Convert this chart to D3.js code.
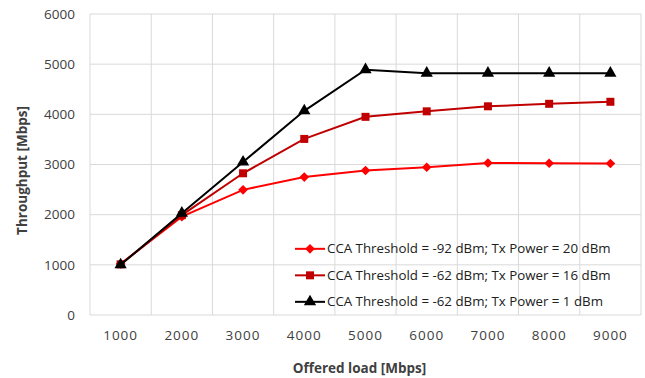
<!DOCTYPE html>
<html>
<head>
<meta charset="utf-8">
<script src="https://cdn.jsdelivr.net/npm/d3@7"></script>
<style>
body { margin: 0; background: #fff; }
text { font-family: "Open Sans", sans-serif; }
</style>
</head>
<body>
<svg id="chart" width="645" height="378"></svg>
<script>
let loads = [1000,2000,3000,4000,5000,6000,7000,8000,9000];
let yTicks = [0,1000,2000,3000,4000,5000,6000];
let serie92 = [1020,1960,2495,2750,2880,2945,3030,3025,3020];
let serie62_16 = [1010,1990,2825,3510,3950,4060,4160,4210,4250];
let serie62_1 = [1000,2030,3050,4070,4890,4820,4820,4820,4820];
let nombres = [
    "CCA Threshold = -92 dBm; Tx Power = 20 dBm",
    "CCA Threshold = -62 dBm; Tx Power = 16 dBm",
    "CCA Threshold = -62 dBm; Tx Power = 1 dBm"
];

let series = [
    {name:nombres[0], values:serie92, color:"#ff0000", symbol:d3.symbolDiamond2, size:60},
    {name:nombres[1], values:serie62_16, color:"#c00000", symbol:d3.symbolSquare, size:64},
    {name:nombres[2], values:serie62_1, color:"#000000", symbol:d3.symbolTriangle, size:65}
];

let margin = {left:90, top:14, right:4, bottom:63};
let svg = d3.select("#chart");
let width = 645 - margin.left - margin.right;
let height = 378 - margin.top - margin.bottom;
let g = svg.append("g").attr("transform",`translate(${margin.left},${margin.top})`);

let scx = d3.scaleBand(loads,[0,width]);
let scy = d3.scaleLinear([0,6000],[height,0]);
let cx = d => scx(d) + scx.bandwidth()/2;

// grid
g.selectAll(".hgrid")
    .data(yTicks)
    .join("line")
    .attr("class","hgrid")
    .attr("x1",0).attr("x2",width)
    .attr("y1",d => scy(d)).attr("y2",d => scy(d))
    .attr("stroke","#d9d9d9")
    .attr("stroke-width",1);

g.selectAll(".vgrid")
    .data(loads.concat([null]))
    .join("line")
    .attr("class","vgrid")
    .attr("x1",(d,i) => i*scx.step()).attr("x2",(d,i) => i*scx.step())
    .attr("y1",0).attr("y2",height)
    .attr("stroke","#d9d9d9")
    .attr("stroke-width",1);

// axes labels
g.selectAll(".ylab")
    .data(yTicks)
    .join("text")
    .attr("class","ylab")
    .attr("x",-15)
    .attr("y",d => scy(d))
    .attr("dy","0.35em")
    .attr("text-anchor","end")
    .attr("font-size",13.5)
    .attr("fill","#404040")
    .text(d => d);

g.selectAll(".xlab")
    .data(loads)
    .join("text")
    .attr("class","xlab")
    .attr("x",d => cx(d))
    .attr("y",height + 25)
    .attr("text-anchor","middle")
    .attr("font-size",13.5)
    .attr("letter-spacing",1)
    .attr("fill","#404040")
    .text(d => d);

svg.append("text")
    .attr("transform",`translate(27,${margin.top + height/2 + 6}) rotate(-90)`)
    .attr("text-anchor","middle")
    .attr("font-size",13.5)
    .attr("font-weight","bold")
    .attr("fill","#404040")
    .text("Throughput [Mbps]");

svg.append("text")
    .attr("x",margin.left + width/2 - 6)
    .attr("y",373)
    .attr("text-anchor","middle")
    .attr("font-size",13.5)
    .attr("font-weight","bold")
    .attr("fill","#404040")
    .text("Offered load [Mbps]");

// lines
let linea = d3.line().x((d,i) => cx(loads[i])).y(d => scy(d));

series.forEach(s => {
    g.append("path")
        .datum(s.values)
        .attr("fill","none")
        .attr("stroke",s.color)
        .attr("stroke-width",2)
        .attr("d",linea);
    g.selectAll(null)
        .data(s.values)
        .join("path")
        .attr("transform",(d,i) => `translate(${cx(loads[i])},${scy(d)})`)
        .attr("d",d3.symbol(s.symbol,s.size))
        .attr("fill",s.color);
});

// legend
let leg = g.append("g").attr("transform",`translate(${205},${scy(1000) - 16})`);
leg.selectAll("g")
    .data(series)
    .join("g")
    .attr("transform",(d,i) => `translate(0,${i*26.5})`)
    .each(function(s) {
        let e = d3.select(this);
        e.append("line")
            .attr("x1",0).attr("x2",30)
            .attr("stroke",s.color)
            .attr("stroke-width",2);
        e.append("path")
            .attr("transform","translate(15,0)")
            .attr("d",d3.symbol(s.symbol,s.size))
            .attr("fill",s.color);
        e.append("text")
            .attr("x",32)
            .attr("dy","0.35em")
            .attr("font-size",13.3)
            .attr("fill","#202020")
            .text(s.name);
    });
</script>
</body>
</html>
